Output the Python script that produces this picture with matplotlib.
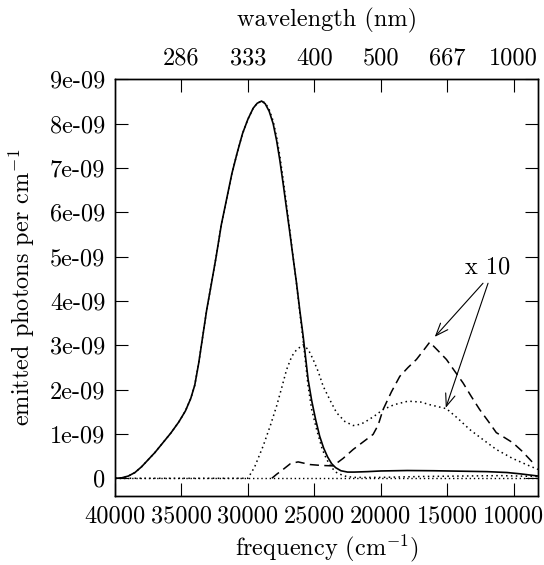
import matplotlib
matplotlib.use("Agg")
import matplotlib.pyplot as plt
import numpy as np

plt.rcParams['font.family'] = ['cmr10', 'DejaVu Serif']
plt.rcParams['mathtext.fontset'] = 'cm'
plt.rcParams['axes.unicode_minus'] = False
plt.rcParams['axes.formatter.use_mathtext'] = True

# ---- data (frequency in cm^-1, emission in 1e-9 photons per cm^-1) ----
total_nu = [40000, 39500, 39000, 38500, 38000, 37500, 37000, 36400, 35800, 35200,
            34700, 34300, 34000, 33700, 33400, 33100, 32800, 32400, 32000, 31600,
            31200, 30800, 30400, 30000, 29600, 29300, 28970, 28700, 28400, 28100,
            27840, 27600, 27350, 27100, 26840, 26600, 26340, 26100, 25840, 25650,
            25470, 25200, 24900, 24600, 24300, 24000, 23700, 23400, 23000, 22500,
            22000, 21000, 20000, 18000, 16000, 14000, 12000, 10500, 9500, 8150]
total_val = [0.0, 0.01, 0.05, 0.13, 0.26, 0.42, 0.58, 0.80, 1.02, 1.27,
             1.52, 1.80, 2.10, 2.60, 3.20, 3.80, 4.30, 4.98, 5.72, 6.30,
             6.88, 7.35, 7.78, 8.10, 8.35, 8.46, 8.51, 8.45, 8.28, 8.00,
             7.62, 7.18, 6.65, 6.10, 5.53, 4.98, 4.40, 3.80, 3.20, 2.70,
             2.23, 1.75, 1.32, 0.95, 0.68, 0.48, 0.33, 0.24, 0.17, 0.14,
             0.14, 0.15, 0.165, 0.175, 0.17, 0.16, 0.15, 0.13, 0.10, 0.05]

band1_nu = [40000, 39500, 39000, 38500, 38000, 37500, 37000, 36400, 35800, 35200,
            34700, 34300, 34000, 33700, 33400, 33100, 32800, 32400, 32000, 31600,
            31200, 30800, 30400, 30000, 29600, 29300, 28970, 28700, 28400, 28100,
            27840, 27600, 27350, 27100, 26840, 26600, 26340, 26100, 25840, 25650,
            25470, 25200, 24830, 24400, 24080, 23700, 23330, 22900, 22580, 22000,
            20000, 17000, 14000, 11000, 8150]
band1_val = [0.0, 0.01, 0.05, 0.13, 0.26, 0.42, 0.58, 0.80, 1.02, 1.27,
             1.52, 1.80, 2.10, 2.60, 3.20, 3.80, 4.30, 4.98, 5.72, 6.30,
             6.88, 7.35, 7.78, 8.10, 8.35, 8.46, 8.51, 8.47, 8.32, 8.06,
             7.70, 7.28, 6.75, 6.18, 5.58, 5.00, 4.38, 3.75, 3.10, 2.58,
             2.08, 1.55, 1.10, 0.65, 0.43, 0.24, 0.13, 0.07, 0.04, 0.02,
             0.02, 0.04, 0.05, 0.06, 0.04]

band2x10_nu = [40000, 30000, 29500, 28850, 28300, 27840, 27450, 27090, 26700, 26340,
               25840, 25450, 25090, 24700, 24340, 23800, 23330, 22700, 22080, 21500,
               21080, 20500, 19830, 19000, 17950, 17000, 16320, 15060, 14200, 13310,
               12300, 11310, 10100, 9050, 8180]
band2x10_val = [0.0, 0.0, 0.25, 0.73, 1.20, 1.63, 2.05, 2.45, 2.75, 2.90,
                3.01, 2.90, 2.68, 2.40, 2.08, 1.75, 1.48, 1.28, 1.19, 1.22,
                1.29, 1.40, 1.55, 1.66, 1.74, 1.72, 1.66, 1.57, 1.35, 1.10,
                0.87, 0.65, 0.45, 0.31, 0.20]

band3x10_nu = [28200, 27840, 27350, 26800, 26220, 25340, 24500, 23590, 22830, 22080,
               21330, 20580, 20200, 19830, 19200, 18570, 17950, 17320, 16800, 16320,
               15700, 15060, 14400, 13810, 13200, 12560, 11900, 11310, 10700, 10060,
               9400, 8800, 8400]
band3x10_val = [0.0, 0.09, 0.20, 0.33, 0.37, 0.31, 0.29, 0.28, 0.45, 0.65,
                0.82, 0.99, 1.20, 1.55, 1.95, 2.30, 2.50, 2.68, 2.88, 3.07,
                2.88, 2.68, 2.40, 2.15, 1.85, 1.55, 1.28, 1.03, 0.92, 0.80,
                0.62, 0.43, 0.30]

zero_nu = [40000, 8150]
zero_val = [0.0, 0.0]

freq_ticks = [40000, 35000, 30000, 25000, 20000, 15000, 10000]
wl_ticks = [35000, 30000, 25000, 20000, 15000, 10000]
wl_labels = ['286', '333', '400', '500', '667', '1000']
y_ticks = [0, 1, 2, 3, 4, 5, 6, 7, 8, 9]
y_labels = ['0', '1e-09', '2e-09', '3e-09', '4e-09', '5e-09', '6e-09', '7e-09', '8e-09', '9e-09']

scale = 1e-9

fig = plt.figure(figsize=(5.44, 5.65), dpi=100)
ax = fig.add_axes([0.2114, 0.1221, 0.9895 - 0.2114, 0.8596 - 0.1221])

ax.plot(zero_nu, np.array(zero_val) * scale, color='black', lw=1.0, ls=(0, (1, 2)))
ax.plot(band2x10_nu, np.array(band2x10_val) * scale, color='black', lw=1.1, ls=(0, (1, 2.2)))
ax.plot(band3x10_nu, np.array(band3x10_val) * scale, color='black', lw=1.1, ls=(0, (6, 3.5)))
ax.plot(band1_nu, np.array(band1_val) * scale, color='black', lw=1.1, ls=(0, (1, 2.2)))
ax.plot(total_nu, np.array(total_val) * scale, color='black', lw=1.2)

ax.set_xlim(40000, 8150)
ax.set_ylim(-0.4e-9, 9e-9)

fs = 17.5
ax.set_xticks(freq_ticks)
ax.set_xticklabels([str(t) for t in freq_ticks], fontsize=fs)
ax.set_yticks(np.array(y_ticks) * scale)
ax.set_yticklabels(y_labels, fontsize=fs)
ax.tick_params(direction='in', length=9.5, width=0.8, right=True, top=False, pad=7)

ax.set_xlabel(r'frequency (cm$^{-1}$)', fontsize=fs, labelpad=3)
ax.set_ylabel(r'emitted photons per cm$^{-1}$', fontsize=fs, labelpad=9)

ax2 = ax.twiny()
ax2.set_xlim(ax.get_xlim())
ax2.set_xticks(wl_ticks)
ax2.set_xticklabels(wl_labels, fontsize=fs)
ax2.tick_params(direction='in', length=9.5, width=0.8, pad=7)
ax2.set_xlabel('wavelength (nm)', fontsize=fs, labelpad=15)

for a in (ax, ax2):
    for s in a.spines.values():
        s.set_linewidth(1.0)

ax.text(11955, 4.75e-9, 'x 10', fontsize=fs, ha='center', va='center')
arrow_kw = dict(arrowstyle='->,head_length=0.9,head_width=0.35', color='black', lw=0.8,
                shrinkA=0, shrinkB=0)
ax.annotate('', xy=(15940, 3.19e-9), xytext=(12310, 4.40e-9), arrowprops=arrow_kw)
ax.annotate('', xy=(15110, 1.59e-9), xytext=(11930, 4.40e-9), arrowprops=arrow_kw)

fig.savefig('out.png', dpi=100)
